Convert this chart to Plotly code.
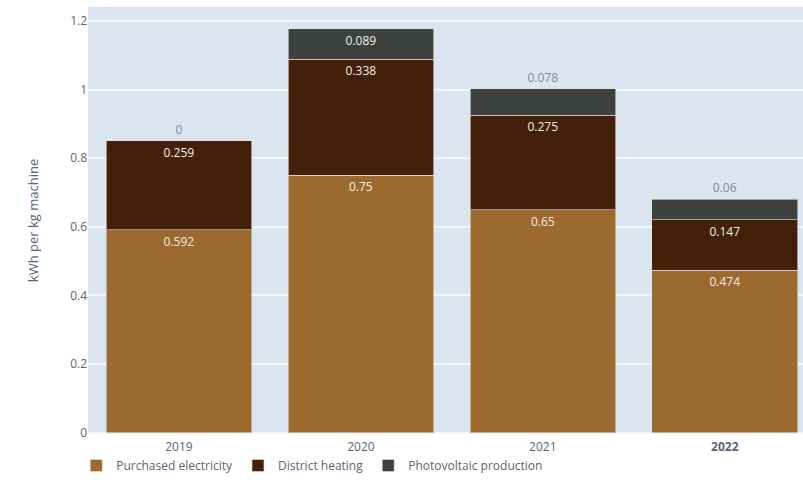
import plotly.graph_objects as go

# Specific energy use per year, kWh per kg of machine
years = ["2019", "2020", "2021", "2022"]
purchased_electricity = [0.592, 0.75, 0.65, 0.474]
district_heating = [0.259, 0.338, 0.275, 0.147]
photovoltaic = [0, 0.089, 0.078, 0.06]
pv_label_position = ["outside", "inside", "outside", "outside"]

FONT = "Open Sans"
label_white = "#f3eee6"
label_grey = "#7f8a99"
tick_grey = "#5b6470"

def fmt(v):
    return f"{v:g}"

fig = go.Figure()
series = [
    ("Purchased electricity", purchased_electricity, "#9c6a2f", "inside"),
    ("District heating", district_heating, "#44200a", "inside"),
    ("Photovoltaic production", photovoltaic, "#3d423f", pv_label_position),
]
for name, vals, color, pos in series:
    fig.add_trace(go.Bar(
        name=name,
        x=years,
        y=vals,
        text=[fmt(v) for v in vals],
        textposition=pos,
        insidetextanchor="end",
        insidetextfont=dict(color=label_white, size=12, family=FONT),
        outsidetextfont=dict(color=label_grey, size=12, family=FONT),
        constraintext="none",
        cliponaxis=False,
        marker=dict(color=color, line=dict(color="rgba(230,225,215,0.6)", width=1)),
    ))

ticktext = years[:-1] + [f"<b>{years[-1]}</b>"]

fig.update_layout(
    width=803,
    height=480,
    barmode="stack",
    bargap=0.2,
    paper_bgcolor="white",
    plot_bgcolor="#dbe5f0",
    margin=dict(l=88, r=0, t=7, b=46, autoexpand=False),
    font=dict(family=FONT, size=12, color=tick_grey),
    showlegend=True,
    legend=dict(
        orientation="h",
        xref="container",
        yref="container",
        x=0.095,
        xanchor="left",
        y=-0.004,
        yanchor="bottom",
        font=dict(size=12, color=tick_grey),
        traceorder="normal",
    ),
    xaxis=dict(
        range=[-0.5, 3.43],
        tickvals=years,
        ticktext=ticktext,
        showgrid=False,
        zeroline=False,
        ticks="",
        ticklabelstandoff=4,
        automargin=False,
        tickfont=dict(size=12, color=tick_grey),
    ),
    yaxis=dict(
        range=[-0.004, 1.241],
        dtick=0.2,
        showgrid=True,
        gridcolor="#f2f6fa",
        gridwidth=2,
        zeroline=False,
        ticks="",
        automargin=False,
        tickfont=dict(size=12, color=tick_grey),
        title=dict(text="kWh per kg machine", font=dict(size=13, color=tick_grey), standoff=28),
    ),
)

fig.write_html("out.html")
